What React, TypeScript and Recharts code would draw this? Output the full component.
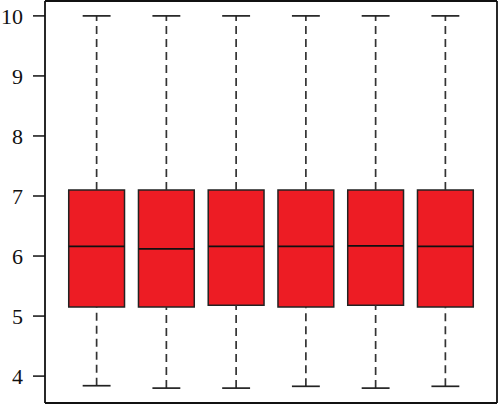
import { ComposedChart, XAxis, YAxis, Scatter, ReferenceArea, ReferenceLine } from "recharts";

// one entry per box, left to right
const groups = [1, 2, 3, 4, 5, 6];
const lowerWhisker = [3.84, 3.8, 3.8, 3.83, 3.8, 3.83];
const q1Values = [5.15, 5.15, 5.18, 5.15, 5.18, 5.15];
const medianValues = [6.16, 6.12, 6.16, 6.16, 6.17, 6.16];
const q3Values = [7.1, 7.1, 7.1, 7.1, 7.1, 7.1];
const upperWhisker = [10, 10, 10, 10, 10, 10];
const yTicks = [4, 5, 6, 7, 8, 9, 10];

const BOX_HALF = 0.4;
const CAP_HALF = 0.2;
const RED = "#ED1C24";
const FRAME = { stroke: "#111", strokeWidth: 1.8 };
const X_DOMAIN: [number, number] = [0.26, 6.74];
const Y_DOMAIN: [number, number] = [3.552, 10.248];

const points = groups.map((g, i) => ({ x: g, y: medianValues[i] }));

function App() {
  return (
    <div style={{ position: "absolute", left: 0, top: 0, fontFamily: "'Liberation Serif', serif" }}>
      <ComposedChart
        width={500}
        height={405}
        data={points}
        margin={{ top: 0, right: 2, bottom: 1, left: 0 }}
      >
        {/* bottom + top axes only draw the frame */}
        <XAxis dataKey="x" type="number" domain={X_DOMAIN} height={1} tick={false} tickLine={false} axisLine={FRAME} allowDataOverflow />
        <XAxis xAxisId="top" orientation="top" dataKey="x" type="number" domain={X_DOMAIN} height={1} tick={false} tickLine={false} axisLine={FRAME} allowDataOverflow />
        <YAxis
          type="number"
          domain={Y_DOMAIN}
          ticks={yTicks}
          width={45}
          tickSize={12}
          tickMargin={10}
          axisLine={FRAME}
          allowDataOverflow
          tickLine={{ stroke: "#111", strokeWidth: 1.5 }}
          tick={{ fill: "#111", fontSize: 22 }}
        />
        <YAxis yAxisId="right" orientation="right" type="number" domain={Y_DOMAIN} width={1} tick={false} tickLine={false} axisLine={FRAME} allowDataOverflow />
        <Scatter dataKey="y" fill="none" shape={() => <g />} isAnimationActive={false} />
        {groups.map((g, i) => (
          <ReferenceLine
            key={`wu-${g}`}
            segment={[{ x: g, y: q3Values[i] }, { x: g, y: upperWhisker[i] }]}
            stroke="#333"
            strokeWidth={1.7}
            strokeDasharray="8 5"
          />
        ))}
        {groups.map((g, i) => (
          <ReferenceLine
            key={`wl-${g}`}
            segment={[{ x: g, y: lowerWhisker[i] }, { x: g, y: q1Values[i] }]}
            stroke="#333"
            strokeWidth={1.7}
            strokeDasharray="8 5"
          />
        ))}
        {groups.map((g, i) => (
          <ReferenceLine
            key={`cu-${g}`}
            segment={[{ x: g - CAP_HALF, y: upperWhisker[i] }, { x: g + CAP_HALF, y: upperWhisker[i] }]}
            stroke="#222"
            strokeWidth={1.7}
          />
        ))}
        {groups.map((g, i) => (
          <ReferenceLine
            key={`cl-${g}`}
            segment={[{ x: g - CAP_HALF, y: lowerWhisker[i] }, { x: g + CAP_HALF, y: lowerWhisker[i] }]}
            stroke="#222"
            strokeWidth={1.7}
          />
        ))}
        {groups.map((g, i) => (
          <ReferenceArea
            key={`box-${g}`}
            x1={g - BOX_HALF}
            x2={g + BOX_HALF}
            y1={q1Values[i]}
            y2={q3Values[i]}
            fill={RED}
            fillOpacity={1}
            stroke="#222"
            strokeWidth={1.5}
          />
        ))}
        {groups.map((g, i) => (
          <ReferenceLine
            key={`med-${g}`}
            segment={[{ x: g - BOX_HALF, y: medianValues[i] }, { x: g + BOX_HALF, y: medianValues[i] }]}
            stroke="#111"
            strokeWidth={1.8}
          />
        ))}
      </ComposedChart>
    </div>
  );
}

export default App;
